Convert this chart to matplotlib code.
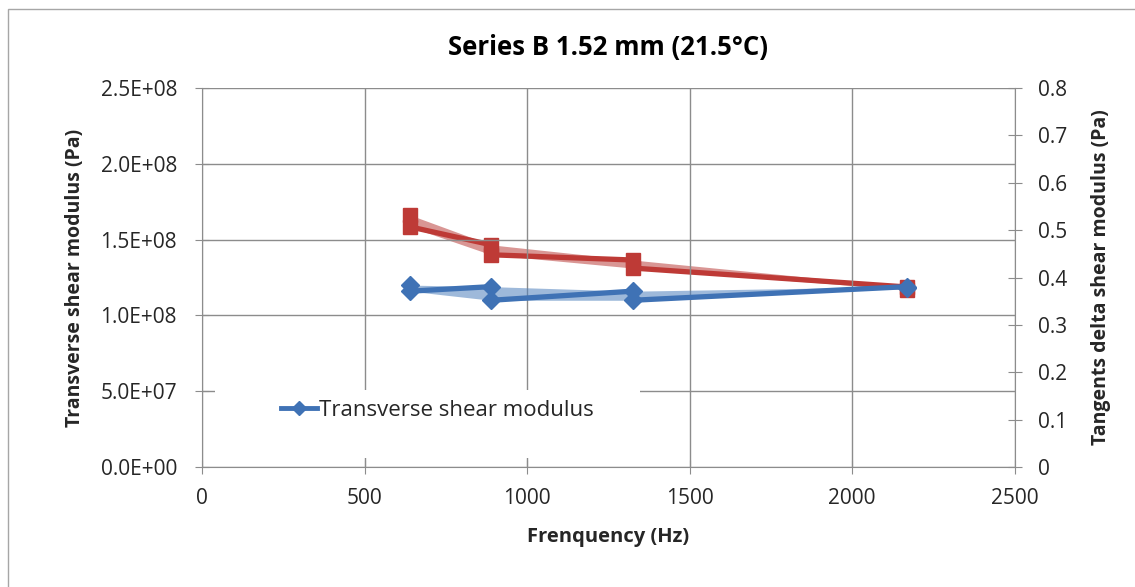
import numpy as np
import matplotlib.pyplot as plt
from matplotlib.patches import Rectangle
from matplotlib.ticker import FuncFormatter

freq = [640, 890, 1325, 2170]
shear_a = [1.20e8, 1.19e8, 1.16e8, 1.19e8]
shear_b = [1.16e8, 1.10e8, 1.10e8, 1.18e8]
tan_a = [0.532, 0.469, 0.437, 0.380]
tan_b = [0.507, 0.448, 0.420, 0.374]

x_ticks = [0, 500, 1000, 1500, 2000, 2500]
left_ticks = [0, 5e7, 1e8, 1.5e8, 2e8, 2.5e8]
right_ticks = [0, 0.1, 0.2, 0.3, 0.4, 0.5, 0.6, 0.7, 0.8]

blue = "#3F72B5"
blue_fill = "#4F81BD"
red = "#BE3A36"
red_fill = "#C0504D"
grid_c = "#8C8C8C"
text_c = "#262626"

plt.rcParams["font.family"] = ["Open Sans", "DejaVu Sans"]


def zigzag(a, b):
    # points joined in measurement order: a0, b0, a1, b1, ...
    xs, ys = [], []
    for f, va, vb in zip(freq, a, b):
        xs += [f, f]
        ys += [va, vb]
    return xs, ys


def sci(v, p):
    if v <= 0:
        return "0.0E+00"
    e = int(np.floor(np.log10(v)))
    return "%.1fE+%02d" % (v / 10 ** e, e)


fig = plt.figure(figsize=(11.35, 5.87), dpi=100)
fig.patches.append(Rectangle((0.007, -0.01), 1.0, 0.995, transform=fig.transFigure,
                             fill=False, edgecolor="#A6A6A6", linewidth=1))
ax = fig.add_axes([0.178, 0.2044, 0.716, 0.6456])
ax2 = ax.twinx()

# shaded bands between the two measurements
ax.fill_between(freq, np.maximum(shear_a, shear_b), np.minimum(shear_a, shear_b),
                color=blue_fill, alpha=0.55, linewidth=0, zorder=2)
ax2.fill_between(freq, np.maximum(tan_a, tan_b), np.minimum(tan_a, tan_b),
                 color=red_fill, alpha=0.6, linewidth=0, zorder=2)

xs, ys = zigzag(shear_a, shear_b)
ax.plot(xs, ys, color=blue, lw=3.8, marker="D", ms=9, zorder=3,
        label="Transverse shear modulus")
xs, ys = zigzag(tan_a, tan_b)
ax2.plot(xs, ys, color=red, lw=3.8, marker="s", ms=10, zorder=3)

ax.set_xlim(0, 2500)
ax.set_ylim(0, 2.5e8)
ax2.set_ylim(0, 0.8)
ax.set_xticks(x_ticks)
ax.set_yticks(left_ticks)
ax2.set_yticks(right_ticks)
ax.yaxis.set_major_formatter(FuncFormatter(sci))
ax2.yaxis.set_major_formatter(FuncFormatter(lambda v, p: "0" if v == 0 else "%.1f" % v))

ax.grid(True, color=grid_c, lw=1)
ax.set_axisbelow(True)
for a in (ax, ax2):
    for s in a.spines.values():
        s.set_visible(False)
ax.spines["left"].set_visible(True)
ax.spines["bottom"].set_visible(True)
ax2.spines["right"].set_visible(True)
for s in (ax.spines["left"], ax.spines["bottom"], ax2.spines["right"]):
    s.set_color(grid_c)

ax.tick_params(axis="both", direction="inout", length=10, color=grid_c,
               labelsize=15, labelcolor=text_c)
ax.tick_params(axis="x", pad=10)
ax.tick_params(axis="y", pad=13)
ax2.tick_params(axis="y", direction="inout", length=10, color=grid_c,
                labelsize=15, labelcolor=text_c, pad=12)

ax.set_title("Series B 1.52 mm (21.5°C)", fontsize=18.5, fontweight="bold",
             color="black", pad=24)
ax.set_xlabel("Frenquency (Hz)", fontsize=14.5, fontweight="bold", color=text_c, labelpad=13)
ax.set_ylabel("Transverse shear modulus (Pa)", fontsize=14, fontweight="bold",
              color=text_c, labelpad=11)
ax2.set_ylabel("Tangents delta shear modulus (Pa)", fontsize=14, fontweight="bold",
               color=text_c, labelpad=17)

# white legend area hiding the gridlines
ax.add_patch(Rectangle((0.016, 0.024), 0.523, 0.179, transform=ax.transAxes,
                       facecolor="white", edgecolor="none", zorder=1))
leg = ax.legend(loc="center", bbox_to_anchor=(0.29, 0.15), fontsize=16,
                frameon=False, handlelength=1.6, handletextpad=0.1,
                borderaxespad=0)
leg.legend_handles[0].set_markersize(7)
leg.legend_handles[0].set_linewidth(3.5)
for t in leg.get_texts():
    t.set_color(text_c)
leg.set_zorder(5)
ax.set_zorder(ax2.get_zorder() + 1)
ax.patch.set_visible(False)

fig.savefig("out.png", dpi=100)
